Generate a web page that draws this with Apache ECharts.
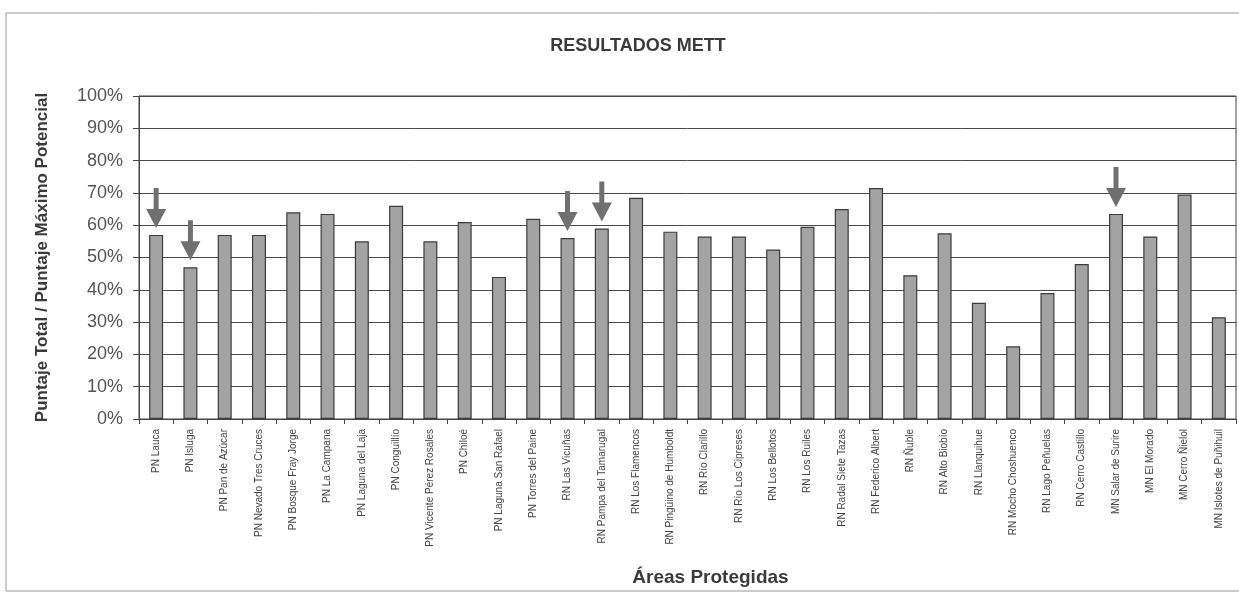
<!DOCTYPE html>
<html>
<head>
<meta charset="utf-8">
<script src="https://cdn.jsdelivr.net/npm/echarts@6/dist/echarts.min.js"></script>
<style>html,body{margin:0;padding:0;background:#fff}#c{width:1239px;height:600px}</style>
</head>
<body>
<div id="c"></div>
<script>
const categories = [
  "PN Lauca","PN Isluga","PN Pan de Azúcar","PN Nevado Tres Cruces","PN Bosque Fray Jorge",
  "PN La Campana","PN Laguna del Laja","PN Conguillío","PN Vicente Pérez Rosales","PN Chiloé",
  "PN Laguna San Rafael","PN Torres del Paine","RN Las Vicuñas","RN Pampa del Tamarugal",
  "RN Los Flamencos","RN Pingüino de Humboldt","RN Río Clarillo","RN Río Los Cipreses",
  "RN Los Bellotos","RN Los Ruiles","RN Radal Siete Tazas","RN Federico Albert","RN Ñuble",
  "RN Alto Biobío","RN Llanquihue","RN Mocho Choshuenco","RN Lago Peñuelas","RN Cerro Castillo",
  "MN Salar de Surire","MN El Morado","MN Cerro Ñielol","MN Islotes de Puñihuil"
];
const values = [57,47,57,57,64,63.5,55,66,55,61,44,62,56,59,68.5,58,56.5,56.5,52.5,59.5,65,71.5,44.5,57.5,36,22.5,39,48,63.5,56.5,69.5,31.5];
const arrowed = ["PN Lauca","PN Isluga","RN Las Vicuñas","RN Pampa del Tamarugal","MN Salar de Surire"];

const arrowPath = 'path://M7.5,0 L12.5,0 L12.5,21 L20,21 L10,40 L0,21 L7.5,21 Z';
const chart = echarts.init(document.getElementById('c'), null, {renderer:'canvas'});
chart.setOption({
  backgroundColor:'#fff',
  animation:false,
  title:{text:'RESULTADOS METT', left:633, top:32, textAlign:'center',
    textStyle:{fontFamily:'Liberation Sans, Arial', fontSize:18, fontWeight:'bold', color:'#3a3a3a'}},
  graphic:[{type:'rect', shape:{x:6,y:13,width:1240,height:578}, style:{fill:'none', stroke:'#999', lineWidth:1}, silent:true}],
  grid:{left:139, right:3, top:96, bottom:181, show:true, borderColor:'#444', borderWidth:1},
  xAxis:{type:'category', data:categories, boundaryGap:true,
    name:'Áreas Protegidas', nameLocation:'middle', nameGap:149,
    nameTextStyle:{fontFamily:'Liberation Sans, Arial', fontSize:19, fontWeight:'bold', color:'#3a3a3a', padding:[0,0,0,46]},
    axisLine:{lineStyle:{color:'#444'}},
    axisTick:{show:true, length:5, lineStyle:{color:'#444'}},
    axisLabel:{rotate:90, interval:0, fontFamily:'Liberation Sans Narrow, Liberation Sans, Arial', fontSize:10, color:'#444', margin:10}
  },
  yAxis:{type:'value', min:0, max:100, interval:10,
    name:'Puntaje Total / Puntaje Máximo Potencial', nameLocation:'middle', nameGap:88,
    nameTextStyle:{fontFamily:'Liberation Sans, Arial', fontSize:17, fontWeight:'bold', color:'#3a3a3a'},
    axisLine:{show:true, lineStyle:{color:'#444'}},
    axisTick:{show:true, length:6, lineStyle:{color:'#444'}},
    axisLabel:{formatter: v => v + '%', fontFamily:'Liberation Sans, Arial', fontSize:18, color:'#555', margin:16},
    splitLine:{show:true, lineStyle:{color:'#4a4a4a', width:1}}
  },
  series:[{
    type:'bar', data:values, barWidth:14,
    itemStyle:{color:'#a3a3a3', borderColor:'#3c3c3c', borderWidth:1.2},
    markPoint:{
      symbol:arrowPath, symbolSize:[20,40], symbolOffset:[0,-27],
      itemStyle:{color:'#707070'}, label:{show:false},
      data: arrowed.map(n => { const i = categories.indexOf(n); return {coord:[i, values[i]]}; })
    }
  }]
});
</script>
</body>
</html>
